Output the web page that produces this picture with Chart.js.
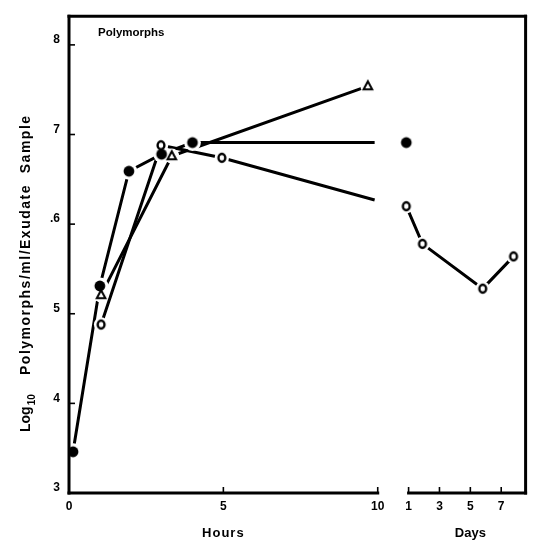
<!DOCTYPE html>
<html>
<head>
<meta charset="utf-8">
<script src="https://cdn.jsdelivr.net/npm/chart.js@4.4.1/dist/chart.umd.min.js"></script>
<style>
  html, body { margin: 0; padding: 0; background: #fff; }
  #wrap { width: 534px; height: 541px; }
</style>
</head>
<body>
<div id="wrap"><canvas id="grafico"></canvas></div>
<script>
// Ticks dos eixos
const horasTicks = [0, 5, 10];
const diasTicks = [1, 3, 5, 7];
const yTicks = [3, 4, 5, 6, 7, 8];
const yLabels = ['3', '4', '5', '.6', '7', '8'];

// Círculos cheios
const cheioHoras = [0.13, 1.0, 1.94, 3.0, 4.0, 9.9];
const cheioValores = [3.46, 5.31, 6.59, 6.78, 6.91, 6.91];
const cheioDias = [0.85];
const cheioDiasValores = [6.91];

// Círculos abertos
const abertoHoras = [1.04, 2.98, 4.95, 9.9];
const abertoValores = [4.88, 6.88, 6.74, 6.27];
const abertoDias = [0.85, 1.9, 5.8, 7.8];
const abertoDiasValores = [6.2, 5.78, 5.28, 5.64];

// Triângulos
const trianguloHoras = [1.04, 3.33, 9.68];
const trianguloValores = [5.21, 6.76, 7.54];

// Horas e dias dividem o mesmo eixo x: dia 1 fica logo depois das 10 h
const INICIO_DIAS = 11.0;
const ESCALA_DIA = 0.5;
const X_MAX = 14.79;
const posDia = d => INICIO_DIAS + (d - 1) * ESCALA_DIA;

const pontos = (xs, ys) => xs.map((x, i) => ({ x: x, y: ys[i] }));
const semUltimo = (xs, r) => xs.map((_, i) => (i === xs.length - 1 ? 0 : r));

const FAMILIA = '"Liberation Sans", Arial, sans-serif';

// Desenho dos marcadores (círculo cheio, "o" aberto e triângulo)
function marcador(tipo) {
  const c = document.createElement('canvas');
  c.width = 16; c.height = 16;
  const g = c.getContext('2d');
  g.strokeStyle = '#000';
  g.fillStyle = '#000';
  if (tipo === 'cheio') {
    g.beginPath(); g.arc(8, 8, 5.4, 0, Math.PI * 2); g.fill();
  } else if (tipo === 'aberto') {
    g.fillStyle = '#fff';
    g.lineWidth = 2.4;
    g.beginPath(); g.ellipse(8, 8, 3.4, 4, 0, 0, Math.PI * 2); g.fill(); g.stroke();
  } else {
    g.fillStyle = '#fff';
    g.lineWidth = 2;
    g.beginPath();
    g.moveTo(8, 3.2); g.lineTo(12.3, 11.2); g.lineTo(3.7, 11.2); g.closePath();
    g.fill(); g.stroke();
  }
  return c;
}

// Cada série vira três camadas: linha, halo branco (as linhas param antes do ponto) e marcador
function serie(xs, ys, marca, halo, ordem, comLinha, semFim) {
  const dados = pontos(xs, ys);
  const ds = [];
  if (comLinha) {
    ds.push({ data: dados, showLine: true, borderColor: '#000', borderWidth: 3, pointRadius: 0, order: 10 });
  }
  ds.push({
    data: dados, showLine: false, pointStyle: 'circle',
    pointBackgroundColor: '#fff', pointBorderWidth: 0,
    pointRadius: semFim ? semUltimo(xs, halo) : halo, order: 5
  });
  ds.push({
    data: dados, showLine: false, pointStyle: marca,
    pointRadius: semFim ? semUltimo(xs, 4) : 4, order: ordem
  });
  return ds;
}

// Moldura, ticks internos e textos
const moldura = {
  id: 'moldura',
  afterDatasetsDraw(chart) {
    const { ctx, chartArea: a, scales: { x, y } } = chart;
    const linha = (x1, y1, x2, y2) => { ctx.beginPath(); ctx.moveTo(x1, y1); ctx.lineTo(x2, y2); ctx.stroke(); };
    ctx.save();
    ctx.strokeStyle = '#000';
    ctx.lineWidth = 3;
    ctx.lineCap = 'square';
    linha(a.left, a.top, a.left, a.bottom);
    linha(a.left, a.top, a.right, a.top);
    linha(a.right, a.top, a.right, a.bottom);
    const x10 = x.getPixelForValue(10);
    const xd1 = x.getPixelForValue(posDia(1));
    linha(a.left, a.bottom, x10, a.bottom);
    linha(xd1, a.bottom, a.right, a.bottom);
    ctx.lineCap = 'butt';
    ctx.lineWidth = 1.6;
    horasTicks.slice(1).forEach(h => {
      const px = x.getPixelForValue(h);
      linha(px, a.bottom, px, a.bottom - 6);
    });
    diasTicks.forEach(d => {
      const px = x.getPixelForValue(posDia(d));
      linha(px, a.bottom, px, a.bottom - 6);
    });
    yTicks.slice(1).forEach(v => {
      const py = y.getPixelForValue(v);
      linha(a.left, py, a.left + 6, py);
    });
    ctx.restore();
  },
  afterDraw(chart) {
    const { ctx, chartArea: a, scales: { x } } = chart;
    ctx.save();
    ctx.fillStyle = '#000';
    ctx.textBaseline = 'middle';

    ctx.font = 'bold 11.5px ' + FAMILIA;
    ctx.textAlign = 'left';
    ctx.fillText('Polymorphs', a.left + 29, 33);

    ctx.font = 'bold 13px ' + FAMILIA;
    ctx.textAlign = 'center';
    ctx.letterSpacing = '1px';
    ctx.fillText('Hours', x.getPixelForValue(5), 533);
    ctx.letterSpacing = '0px';
    ctx.fillText('Days', x.getPixelForValue(posDia(5)), 533);

    // Título do eixo y, girado, com subscrito
    ctx.translate(26, 432);
    ctx.rotate(-Math.PI / 2);
    ctx.textAlign = 'left';
    ctx.font = 'bold 14px ' + FAMILIA;
    ctx.fillText('Log', 0, 0);
    const wLog = ctx.measureText('Log').width;
    ctx.font = 'bold 10px ' + FAMILIA;
    ctx.fillText('10', wLog + 1, 6);
    ctx.font = 'bold 14px ' + FAMILIA;
    ctx.letterSpacing = '1.5px';
    ctx.fillText('Polymorphs/ml/Exudate  Sample', 57, 0);
    ctx.restore();
  }
};

const mCheio = marcador('cheio');
const mAberto = marcador('aberto');
const mTriangulo = marcador('triangulo');

const datasets = [].concat(
  serie(cheioHoras, cheioValores, mCheio, 8.4, 3, true, true),
  serie(cheioDias.map(posDia), cheioDiasValores, mCheio, 8.4, 3, false, false),
  serie(trianguloHoras, trianguloValores, mTriangulo, 7.5, 2, true, false),
  serie(abertoHoras, abertoValores, mAberto, 7.2, 1, true, true),
  serie(abertoDias.map(posDia), abertoDiasValores, mAberto, 7.2, 1, true, false)
);

new Chart(document.getElementById('grafico'), {
  type: 'scatter',
  data: { datasets: datasets },
  options: {
    responsive: true,
    maintainAspectRatio: false,
    animation: false,
    layout: { padding: { left: 0, right: 8, top: 10, bottom: 0 } },
    plugins: { legend: { display: false }, tooltip: { enabled: false } },
    scales: {
      x: {
        type: 'linear',
        min: 0,
        max: X_MAX,
        grid: { display: false, drawTicks: false },
        border: { display: false },
        afterBuildTicks: s => {
          s.ticks = horasTicks.concat(diasTicks.map(posDia)).map(v => ({ value: v }));
        },
        afterFit: s => { s.height = 48; },
        ticks: {
          autoSkip: false,
          maxRotation: 0,
          padding: 6,
          color: '#000',
          font: { family: FAMILIA, size: 12, weight: 'bold' },
          callback: v => (v <= 10 ? String(v) : String(Math.round((v - INICIO_DIAS) / ESCALA_DIA + 1)))
        }
      },
      y: {
        min: 3,
        max: 8.32,
        grid: { display: false, drawTicks: false },
        border: { display: false },
        afterBuildTicks: s => { s.ticks = yTicks.map(v => ({ value: v })); },
        afterFit: s => { s.width = 69; },
        ticks: {
          padding: 9,
          labelOffset: -5,
          color: '#000',
          font: { family: FAMILIA, size: 12, weight: 'bold' },
          callback: v => yLabels[yTicks.indexOf(v)]
        }
      }
    }
  },
  plugins: [moldura]
});
</script>
</body>
</html>
